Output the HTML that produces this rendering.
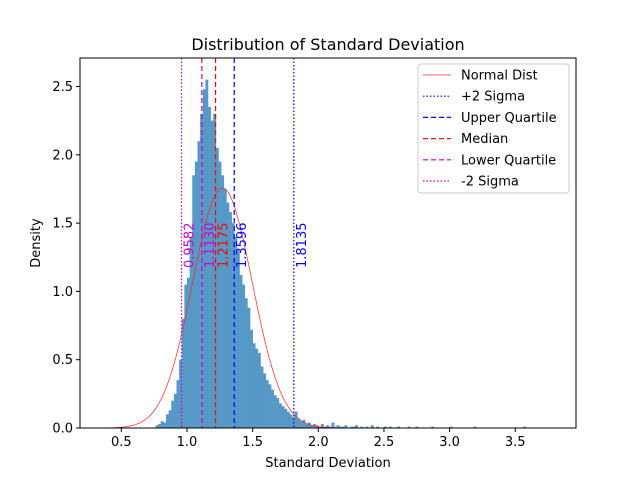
<!DOCTYPE html>
<html><head><meta charset="utf-8"><style>
body{margin:0;background:#fff;}
svg{display:block;font-family:"DejaVu Sans","Liberation Sans",sans-serif;}
</style></head><body>
<svg id="chart" width="640" height="480" viewBox="0 0 640 480">
<rect x="0" y="0" width="640" height="480" fill="#fff"/>
<text x="328" y="50" font-size="16" text-anchor="middle">Distribution of Standard Deviation</text>
<g id="bars"></g>
<g id="curve"></g>
<g id="vlines"></g>
<g id="axes"></g>
<text x="328" y="467" font-size="13" text-anchor="middle">Standard Deviation</text>
<text x="40" y="243" font-size="13" text-anchor="middle" transform="rotate(-90 40 243)">Density</text>
<g id="legend"></g>
</svg>
<script>
const binStart = 0.76;
const binWidth = 0.02;
const densities = [0.02,0.03,0.05,0.04,0.10,0.13,0.20,0.25,0.35,0.50,0.80,1.05,1.10,1.40,1.85,1.95,2.10,2.30,2.48,2.55,2.35,2.25,2.30,2.05,1.95,1.85,1.75,1.65,1.58,1.50,1.40,1.30,1.12,1.05,0.95,0.88,0.72,0.62,0.58,0.55,0.45,0.40,0.35,0.32,0.28,0.24,0.22,0.18,0.16,0.14,0.12,0.10,0.08,0.12,0.07,0.05,0.06,0.03,0.04,0.02,
0.03,0.02,0.01,0.03,0.01,0.02,0.01,0.04,0.01,0.02,0.01,0.01,0.02,0.0,0.01,0.01,0.02,0.0,0.01,0.0,0.01,0.0,0.02,0.0,0.01,0.0,0.0,0.01,0.0,0.01,0.0,0.0,0.01,0.0,0.0,0.0,0.01,0.0,0.0,0.01,0.0,0.0,0.0,0.0,0.0,0.01,0.0,0.0,0.0,0.0,0.0,0.0,0.01,0.0,0.0,0.0,0.0,0.0,0.0,0.0,0.0,0.01,0.0,0.0,0.0,0.0,0.0,0.0,0.0,0.0,0.0,0.0,0.0,0.0,0.0,0.0,0.0,0.0,0.0,0.0,0.01];
const xTicks = [0.5,1.0,1.5,2.0,2.5,3.0,3.5];
const xTickLabels = ["0.5","1.0","1.5","2.0","2.5","3.0","3.5"];
const yTicks = [0,0.5,1.0,1.5,2.0,2.5];
const yTickLabels = ["0.0","0.5","1.0","1.5","2.0","2.5"];
const normMean = 1.27;
const normSigma = 0.227;
const curveRange = [0.35, 3.8];
const refValues = [0.9582,1.1130,1.2175,1.3596,1.8135];
const refLabels = ["0.9582","1.1130","1.2175","1.3596","1.8135"];
const refNames = ["-2 Sigma","Lower Quartile","Median","Upper Quartile","+2 Sigma"];
const refColors = ["#c0c","#c0c","red","blue","blue"];
const refDash = ["1.5,2","5,3","5,3","5,3","1.5,2"];

const L=80,R=576,T=58,B=428;
const X=v=>187+(v-1.0)*131.3;
const Y=v=>428-v*136.6;
const NS="http://www.w3.org/2000/svg";
function mk(tag,attrs,parent){const e=document.createElementNS(NS,tag);for(const k in attrs)e.setAttribute(k,attrs[k]);parent.appendChild(e);return e;}

const bars=document.getElementById('bars');
densities.forEach((d,i)=>{if(d<=0)return;
  const x0=X(binStart+i*binWidth),x1=X(binStart+(i+1)*binWidth);
  const r=mk('rect',{x:x0,y:Y(d),width:x1-x0+0.3,height:Y(0)-Y(d),fill:'#5799c6'},bars);
  
  
});

const cg=document.getElementById('curve');
let pts=[];
for(let k=0;k<=300;k++){const v=curveRange[0]+(curveRange[1]-curveRange[0])*k/300;
  const d=Math.exp(-0.5*((v-normMean)/normSigma)**2)/(normSigma*Math.sqrt(2*Math.PI));
  pts.push(X(v).toFixed(2)+','+Y(d).toFixed(2));}
const pl=mk('polyline',{points:pts.join(' '),fill:'none',stroke:'#f22','stroke-width':0.7},cg);



const vg=document.getElementById('vlines');
refValues.forEach((v,i)=>{
  const ln=mk('line',{x1:X(v),x2:X(v),y1:T,y2:B,stroke:refColors[i],'stroke-width':1.2,'stroke-dasharray':refDash[i]},vg);
  
  
  const tx=X(v)+12, ty=268;
  const t=mk('text',{x:tx,y:ty,'font-size':13,fill:refColors[i],transform:`rotate(-90 ${tx} ${ty})`},vg);
  t.textContent=refLabels[i];
  
  
});

const ag=document.getElementById('axes');
mk('rect',{x:L,y:T,width:R-L,height:B-T,fill:'none',stroke:'#000','stroke-width':1},ag);
xTicks.forEach((v,i)=>{
  mk('line',{x1:X(v),x2:X(v),y1:B,y2:B+4,stroke:'#000'},ag);
  const t=mk('text',{x:X(v),y:B+18,'font-size':13,'text-anchor':'middle'},ag);
  t.textContent=xTickLabels[i];
  
  
});
yTicks.forEach((v,i)=>{
  mk('line',{x1:L-4,x2:L,y1:Y(v),y2:Y(v),stroke:'#000'},ag);
  const t=mk('text',{x:L-7,y:Y(v)+4.5,'font-size':13,'text-anchor':'end'},ag);
  t.textContent=yTickLabels[i];
  
  
});

const lg=document.getElementById('legend');
mk('rect',{x:418,y:64,width:151,height:129,rx:3,fill:'#fff','fill-opacity':0.8,stroke:'#ccc'},lg);
const legNames=["Normal Dist","+2 Sigma","Upper Quartile","Median","Lower Quartile","-2 Sigma"];
const legColors=["#f22","blue","blue","red","#c0c","#c0c"];
const legDash=["","1.5,2","5,3","5,3","5,3","1.5,2"];
legNames.forEach((n,i)=>{
  const y=75+i*21.2;
  const l=mk('line',{x1:423,x2:451,y1:y,y2:y,stroke:legColors[i],'stroke-width':i?1.2:0.7},lg);
  if(legDash[i])l.setAttribute('stroke-dasharray',legDash[i]);
  const t=mk('text',{x:461,y:y+4.5,'font-size':13},lg);
  t.textContent=n;
  
  
});
</script>
</body></html>
